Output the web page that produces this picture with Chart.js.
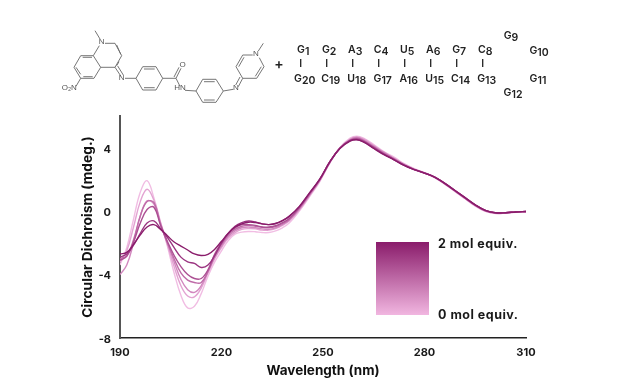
<!DOCTYPE html>
<html>
<head>
<meta charset="utf-8">
<title>Circular dichroism titration</title>
<script src="https://cdn.jsdelivr.net/npm/chart.js@4"></script>
<style>
  body { margin: 0; background: #fff; }
  #wrap { position: relative; width: 627px; height: 386px; overflow: hidden; }
  #wrap canvas, #wrap svg { position: absolute; left: 0; top: 0; }
  .bond { stroke: #666; stroke-width: 0.9; fill: none; }
  .atom { font: 8px "Liberation Sans", sans-serif; fill: #555; text-anchor: middle; }
  .nt { font: 600 10.5px Inter, sans-serif; fill: #222; text-anchor: middle; }
</style>
</head>
<body>
<div id="wrap">
  <canvas id="cd_chart" width="627" height="386"></canvas>
  <svg id="header" width="627" height="110"></svg>
</div>
<script>
const wavelengths = [190,192,194,196,198,200,202,204,206,208,210,212,214,216,218,220,222,224,226,228,230,232,234,236,238,240,243,246,249,252,255,258,260,262,265,268,271,274,277,280,283,286,289,292,295,298,301,304,307,310];

const equiv0 = [-3.4,-2.3,-0.5,1.2,1.92,0.85,-0.7,-2.2,-3.9,-5.3,-6.1,-6.0,-5.2,-4.1,-3.2,-2.5,-1.85,-1.45,-1.32,-1.28,-1.3,-1.35,-1.35,-1.25,-1.05,-0.75,0,0.9,1.85,3.05,4.0,4.6,4.72,4.6,4.2,3.75,3.4,3.0,2.68,2.42,2.12,1.7,1.25,0.78,0.32,-0.02,-0.15,-0.12,-0.08,-0.05];
const equiv1 = [-3.2,-2.5,-1.0,0.6,1.38,0.7,-0.75,-2.1,-3.5,-4.7,-5.35,-5.4,-4.85,-3.9,-3.0,-2.3,-1.7,-1.35,-1.15,-1.1,-1.12,-1.2,-1.2,-1.1,-0.9,-0.62,0.08,0.98,1.9,3.05,4.0,4.55,4.68,4.55,4.15,3.72,3.35,2.96,2.65,2.42,2.12,1.72,1.25,0.8,0.35,0,-0.14,-0.12,-0.06,-0.04];
const equiv2 = [-4.0,-3.4,-2.0,-0.3,0.65,0.45,-0.8,-2.0,-3.2,-4.3,-4.95,-5.12,-4.7,-3.8,-2.9,-2.2,-1.6,-1.25,-1.05,-1.0,-1.05,-1.12,-1.15,-1.05,-0.85,-0.58,0.12,1.0,1.92,3.05,3.98,4.52,4.65,4.5,4.1,3.7,3.32,2.94,2.64,2.4,2.14,1.72,1.28,0.8,0.36,0.01,-0.12,-0.1,-0.06,-0.03];
const equiv3 = [-3.0,-2.8,-1.8,-0.3,0.6,0.55,-0.85,-2.0,-3.0,-3.9,-4.35,-4.5,-4.5,-3.8,-2.8,-2.1,-1.5,-1.15,-0.95,-0.9,-0.95,-1.02,-1.05,-0.98,-0.78,-0.52,0.18,1.05,1.95,3.08,3.98,4.48,4.6,4.45,4.05,3.65,3.3,2.92,2.62,2.4,2.14,1.74,1.28,0.82,0.38,0.03,-0.12,-0.1,-0.05,-0.02];
const equiv4 = [-3.1,-2.85,-1.95,-0.75,0.1,0.25,-0.9,-1.9,-2.8,-3.5,-4.0,-4.25,-4.25,-3.7,-2.7,-2.0,-1.4,-1.05,-0.85,-0.85,-0.9,-1.0,-1.0,-0.92,-0.72,-0.47,0.22,1.1,1.98,3.1,3.97,4.46,4.55,4.42,4.02,3.62,3.26,2.9,2.62,2.41,2.15,1.75,1.3,0.84,0.38,0.04,-0.11,-0.1,-0.05,-0.02];
const equiv5 = [-2.9,-2.7,-2.15,-1.4,-0.75,-0.62,-1.1,-1.65,-2.3,-2.9,-3.2,-3.3,-3.55,-3.4,-2.8,-2.0,-1.4,-0.95,-0.72,-0.62,-0.68,-0.8,-0.85,-0.78,-0.6,-0.33,0.27,1.12,2.0,3.1,3.96,4.44,4.52,4.38,3.98,3.58,3.24,2.88,2.62,2.4,2.15,1.75,1.3,0.85,0.4,0.05,-0.1,-0.1,-0.05,-0.02];
const equiv6 = [-2.7,-2.6,-2.1,-1.5,-1.0,-0.85,-1.15,-1.55,-1.95,-2.2,-2.45,-2.7,-2.8,-2.72,-2.4,-1.9,-1.4,-1.0,-0.8,-0.7,-0.72,-0.8,-0.85,-0.78,-0.6,-0.33,0.3,1.15,2.0,3.1,3.95,4.42,4.5,4.35,3.95,3.56,3.24,2.88,2.62,2.4,2.15,1.75,1.3,0.85,0.4,0.05,-0.1,-0.1,-0.05,-0.02];

// darkest first so it ends up painted on top
const titration = [equiv6, equiv5, equiv4, equiv3, equiv2, equiv1, equiv0];
const lineColors = ["#8a1c6b", "#9a3480", "#ac4f93", "#bf6ba8", "#d288bf", "#e3a3d2", "#f1bde3"];
const legendLabels = ["2 mol equiv.", "0 mol equiv."];
const fontFamily = 'Inter, "Liberation Sans", sans-serif';

const gradientKey = {
  id: "gradientKey",
  afterDraw(chart) {
    const c = chart.ctx;
    const g = c.createLinearGradient(0, 242, 0, 315);
    g.addColorStop(0, "#8a1c6b");
    g.addColorStop(1, "#f1b6e0");
    c.save();
    c.fillStyle = g;
    c.fillRect(376, 242, 53, 73);
    c.fillStyle = "#1a1a1a";
    c.font = "700 12.5px " + fontFamily;
    c.letterSpacing = "0.5px";
    c.textBaseline = "middle";
    c.fillText(legendLabels[0], 438, 244);
    c.fillText(legendLabels[1], 438, 315);
    c.restore();
  }
};

new Chart(document.getElementById("cd_chart"), {
  type: "line",
  data: {
    datasets: titration.map((values, i) => ({
      data: values.map((y, k) => ({ x: wavelengths[k], y: y })),
      borderColor: lineColors[i],
      borderWidth: 1.4,
      pointRadius: 0,
      tension: 0.4,
      fill: false
    }))
  },
  options: {
    responsive: false,
    animation: false,
    events: [],
    layout: { padding: { left: 80, top: 116, right: 101, bottom: 7 } },
    plugins: { legend: { display: false }, tooltip: { enabled: false } },
    scales: {
      x: {
        type: "linear",
        min: 190,
        max: 310,
        afterFit(scale) { scale.height = 41; },
        grid: { display: false, drawTicks: true, tickLength: 3, tickColor: "#222", tickWidth: 1.5 },
        border: { color: "#222", width: 1.5 },
        ticks: {
          stepSize: 15,
          maxRotation: 0,
          autoSkip: false,
          color: "#1a1a1a",
          padding: 5,
          font: { family: fontFamily, size: 11, weight: "700" },
          callback: v => ((v - 190) % 30 === 0 ? v : "")
        },
        title: {
          display: true,
          text: "Wavelength (nm)",
          color: "#111",
          padding: 0,
          font: { family: fontFamily, size: 13.5, weight: "700" }
        }
      },
      y: {
        min: -8,
        max: 6,
        afterFit(scale) { scale.width = 40; },
        grid: { display: false, drawTicks: true, tickLength: 3, tickColor: "#222", tickWidth: 1.5 },
        border: { color: "#555", width: 2 },
        ticks: {
          stepSize: 2,
          color: "#1a1a1a",
          padding: 6,
          labelOffset: 1.5,
          autoSkip: false,
          font: { family: fontFamily, size: 11, weight: "700" },
          callback: v => (v % 4 === 0 && v < 6 ? v : "")
        },
        title: {
          display: true,
          text: "Circular Dichroism (mdeg.)",
          color: "#111",
          padding: 0,
          font: { family: fontFamily, size: 13.8, weight: "700" }
        }
      }
    }
  },
  plugins: [gradientKey]
});

// header: the ligand sketch and the hairpin sequence, not part of the data
const ringBonds = [
  [[92,122],[130,122],[152,157],[132,190],[92,190],[72,157],[92,122]],
  [[130,122],[148,92]], [[165,85],[195,85],[215,122],[195,157],[152,157]],
  [[135,47],[150,72]], [[195,157],[213,184]], [[203,153],[220,180]], [[225,190],[258,190]],
  [[258,190],[278,155],[318,155],[338,190],[318,225],[278,225],[258,190]],
  [[338,190],[378,190]], [[378,190],[393,160]], [[372,186],[387,157]], [[378,190],[390,214]], [[405,226],[438,228]],
  [[438,228],[458,193],[498,193],[520,228],[498,262],[458,262],[438,228]],
  [[520,228],[550,223]], [[565,215],[578,190]], [[557,210],[570,186]],
  [[578,190],[558,155],[578,120],[608,120]], [[628,128],[642,155],[620,190],[578,190]],
  [[625,108],[640,85]], [[92,190],[78,214]],
  [[98,127],[126,127]], [[100,185],[128,185]], [[78,157],[92,178]],
  [[200,90],[212,118]], [[200,152],[207,140]], [[282,162],[314,162]], [[282,218],[314,218]],
  [[462,200],[494,200]], [[462,255],[494,255]], [[566,155],[582,127]], [[634,155],[616,184]]
];
const atoms = [["N",155,87],["N",215,196],["O",398,155],["HN",390,226],["N",558,226],["N",618,122],["O\u2082N",58,226]];
const ntTop = [["G","1"],["G","2"],["A","3"],["C","4"],["U","5"],["A","6"],["G","7"],["C","8"]];
const ntBottom = [["G","20"],["C","19"],["U","18"],["G","17"],["A","16"],["U","15"],["C","14"],["G","13"]];
const ntX = [300.7,326.7,352.7,378.7,404.7,430.7,456.7,482.7];
const ntLoop = [["G","9",511,39],["G","10",539,54],["G","11",538,82],["G","12",513,96]];

let svg = "";
ringBonds.forEach(b => {
  const pts = b.map(p => (50 + p[0] / 3).toFixed(1) + "," + (15 + p[1] / 3).toFixed(1)).join(" ");
  svg += '<polyline class="bond" points="' + pts + '"/>';
});
atoms.forEach(a => {
  svg += '<text class="atom" x="' + (50 + a[1] / 3) + '" y="' + (15 + a[2] / 3) + '">' + a[0] + '</text>';
});
function nt(pair, x, y) {
  return '<text class="nt" x="' + x + '" y="' + y + '">' + pair[0] + '<tspan dy="2">' + pair[1] + '</tspan></text>';
}
ntX.forEach((x, i) => {
  svg += nt(ntTop[i], x + 2.5, 53) + nt(ntBottom[i], x + 4, 82);
  svg += '<line x1="' + x + '" x2="' + x + '" y1="59" y2="67" stroke="#222" stroke-width="1.3"/>';
});
ntLoop.forEach(n => { svg += nt(n, n[2], n[3]); });
svg += '<text x="279" y="69" font-family="Inter, sans-serif" font-size="14" font-weight="600" fill="#222" text-anchor="middle">+</text>';
document.getElementById("header").innerHTML = svg;
</script>
</body>
</html>
